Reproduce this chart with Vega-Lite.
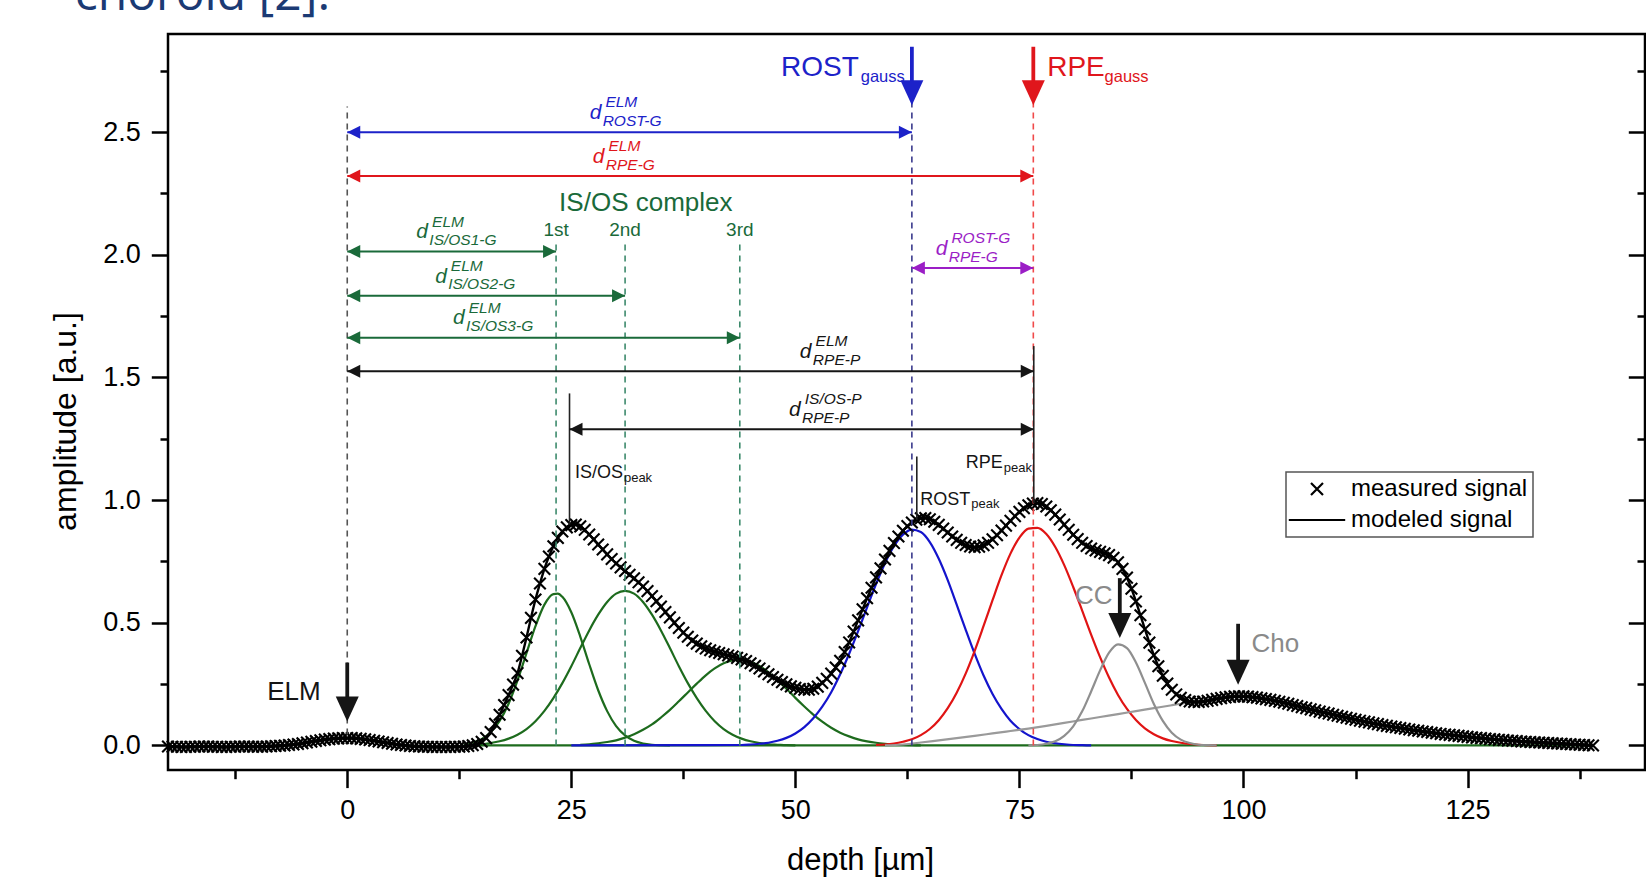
{
"$schema": "https://vega.github.io/schema/vega-lite/v6.json",
"width": 1477,
"height": 736,
"autosize": {"type": "none"},
"padding": {"left": 168, "top": 34, "right": 1, "bottom": 110},
"background": "white",
"config": {
  "view": {"stroke": "black", "strokeWidth": 2.5},
  "font": "Liberation Sans",
  "axis": {"domain": false, "grid": false, "labelColor": "black", "titleColor": "black", "tickColor": "black", "tickWidth": 2.5, "titleFontWeight": "normal", "labelFont": "Liberation Sans", "titleFont": "Liberation Sans", "labelOverlap": false, "labelFlush": false},
  "legend": {"strokeWidth": 1.5}
},
"resolve": {"axis": {"y": "independent", "x": "independent"}},
"datasets": {
  "sig": [
{"x":-20,"m":-0.004},{"x":-19.5,"m":-0.005},{"x":-19,"m":-0.005},{"x":-18.5,"m":-0.006},{"x":-18,"m":-0.006},{"x":-17.5,"m":-0.005},{"x":-17,"m":-0.005},{"x":-16.5,"m":-0.004},{"x":-16,"m":-0.004},{"x":-15.5,"m":-0.004},{"x":-15,"m":-0.005},{"x":-14.5,"m":-0.005},{"x":-14,"m":-0.006},{"x":-13.5,"m":-0.006},{"x":-13,"m":-0.005},{"x":-12.5,"m":-0.005},{"x":-12,"m":-0.004},{"x":-11.5,"m":-0.004},{"x":-11,"m":-0.004},{"x":-10.5,"m":-0.005},{"x":-10,"m":-0.005},{"x":-9.5,"m":-0.005},{"x":-9,"m":-0.004},{"x":-8.5,"m":-0.003},{"x":-8,"m":-0.002},{"x":-7.5,"m":-0.001},{"x":-7,"m":0},{"x":-6.5,"m":0.002},{"x":-6,"m":0.004},{"x":-5.5,"m":0.006},{"x":-5,"m":0.009},{"x":-4.5,"m":0.012},{"x":-4,"m":0.015},{"x":-3.5,"m":0.018},{"x":-3,"m":0.021},{"x":-2.5,"m":0.024},{"x":-2,"m":0.026},{"x":-1.5,"m":0.028},{"x":-1,"m":0.029},{"x":-0.5,"m":0.03},{"x":0,"m":0.03},{"x":0.5,"m":0.03},{"x":1,"m":0.029},{"x":1.5,"m":0.027},{"x":2,"m":0.025},{"x":2.5,"m":0.022},{"x":3,"m":0.019},{"x":3.5,"m":0.016},{"x":4,"m":0.013},{"x":4.5,"m":0.01},{"x":5,"m":0.007},{"x":5.5,"m":0.004},{"x":6,"m":0.002},{"x":6.5,"m":0},{"x":7,"m":-0.002},{"x":7.5,"m":-0.003},{"x":8,"m":-0.004},{"x":8.5,"m":-0.005},{"x":9,"m":-0.005},{"x":9.5,"m":-0.006},{"x":10,"m":-0.006},{"x":10.5,"m":-0.006},{"x":11,"m":-0.006},{"x":11.5,"m":-0.006},{"x":12,"m":-0.005},{"x":12.5,"m":-0.005},{"x":13,"m":-0.004},{"x":13.5,"m":-0.002},{"x":14,"m":0.001},{"x":14.5,"m":0.006},{"x":15,"m":0.015},{"x":15.5,"m":0.03},{"x":16,"m":0.055},{"x":16.5,"m":0.088},{"x":17,"m":0.125},{"x":17.5,"m":0.165},{"x":18,"m":0.205},{"x":18.5,"m":0.248},{"x":19,"m":0.295},{"x":19.5,"m":0.365},{"x":20,"m":0.44},{"x":20.5,"m":0.52},{"x":21,"m":0.595},{"x":21.5,"m":0.66},{"x":22,"m":0.72},{"x":22.5,"m":0.77},{"x":23,"m":0.812},{"x":23.5,"m":0.846},{"x":24,"m":0.872},{"x":24.5,"m":0.889},{"x":25,"m":0.898},{"x":25.5,"m":0.9},{"x":26,"m":0.893},{"x":26.5,"m":0.879},{"x":27,"m":0.86},{"x":27.5,"m":0.84},{"x":28,"m":0.819},{"x":28.5,"m":0.799},{"x":29,"m":0.779},{"x":29.5,"m":0.76},{"x":30,"m":0.742},{"x":30.5,"m":0.726},{"x":31,"m":0.711},{"x":31.5,"m":0.696},{"x":32,"m":0.681},{"x":32.5,"m":0.665},{"x":33,"m":0.648},{"x":33.5,"m":0.629},{"x":34,"m":0.609},{"x":34.5,"m":0.588},{"x":35,"m":0.566},{"x":35.5,"m":0.544},{"x":36,"m":0.522},{"x":36.5,"m":0.5},{"x":37,"m":0.479},{"x":37.5,"m":0.46},{"x":38,"m":0.443},{"x":38.5,"m":0.428},{"x":39,"m":0.415},{"x":39.5,"m":0.404},{"x":40,"m":0.395},{"x":40.5,"m":0.388},{"x":41,"m":0.382},{"x":41.5,"m":0.377},{"x":42,"m":0.372},{"x":42.5,"m":0.367},{"x":43,"m":0.362},{"x":43.5,"m":0.357},{"x":44,"m":0.351},{"x":44.5,"m":0.344},{"x":45,"m":0.335},{"x":45.5,"m":0.325},{"x":46,"m":0.314},{"x":46.5,"m":0.302},{"x":47,"m":0.29},{"x":47.5,"m":0.279},{"x":48,"m":0.268},{"x":48.5,"m":0.258},{"x":49,"m":0.249},{"x":49.5,"m":0.241},{"x":50,"m":0.235},{"x":50.5,"m":0.23},{"x":51,"m":0.227},{"x":51.5,"m":0.227},{"x":52,"m":0.231},{"x":52.5,"m":0.24},{"x":53,"m":0.255},{"x":53.5,"m":0.272},{"x":54,"m":0.293},{"x":54.5,"m":0.318},{"x":55,"m":0.345},{"x":55.5,"m":0.381},{"x":56,"m":0.42},{"x":56.5,"m":0.464},{"x":57,"m":0.51},{"x":57.5,"m":0.555},{"x":58,"m":0.6},{"x":58.5,"m":0.643},{"x":59,"m":0.685},{"x":59.5,"m":0.722},{"x":60,"m":0.758},{"x":60.5,"m":0.793},{"x":61,"m":0.825},{"x":61.5,"m":0.852},{"x":62,"m":0.875},{"x":62.5,"m":0.894},{"x":63,"m":0.909},{"x":63.5,"m":0.92},{"x":64,"m":0.926},{"x":64.5,"m":0.927},{"x":65,"m":0.922},{"x":65.5,"m":0.912},{"x":66,"m":0.899},{"x":66.5,"m":0.884},{"x":67,"m":0.868},{"x":67.5,"m":0.852},{"x":68,"m":0.838},{"x":68.5,"m":0.826},{"x":69,"m":0.817},{"x":69.5,"m":0.811},{"x":70,"m":0.808},{"x":70.5,"m":0.81},{"x":71,"m":0.816},{"x":71.5,"m":0.826},{"x":72,"m":0.84},{"x":72.5,"m":0.857},{"x":73,"m":0.876},{"x":73.5,"m":0.896},{"x":74,"m":0.916},{"x":74.5,"m":0.935},{"x":75,"m":0.952},{"x":75.5,"m":0.967},{"x":76,"m":0.979},{"x":76.5,"m":0.986},{"x":77,"m":0.988},{"x":77.5,"m":0.984},{"x":78,"m":0.974},{"x":78.5,"m":0.959},{"x":79,"m":0.941},{"x":79.5,"m":0.921},{"x":80,"m":0.9},{"x":80.5,"m":0.879},{"x":81,"m":0.859},{"x":81.5,"m":0.841},{"x":82,"m":0.826},{"x":82.5,"m":0.813},{"x":83,"m":0.803},{"x":83.5,"m":0.795},{"x":84,"m":0.789},{"x":84.5,"m":0.783},{"x":85,"m":0.776},{"x":85.5,"m":0.765},{"x":86,"m":0.747},{"x":86.5,"m":0.72},{"x":87,"m":0.684},{"x":87.5,"m":0.639},{"x":88,"m":0.587},{"x":88.5,"m":0.531},{"x":89,"m":0.474},{"x":89.5,"m":0.419},{"x":90,"m":0.368},{"x":90.5,"m":0.323},{"x":91,"m":0.284},{"x":91.5,"m":0.252},{"x":92,"m":0.227},{"x":92.5,"m":0.208},{"x":93,"m":0.194},{"x":93.5,"m":0.185},{"x":94,"m":0.179},{"x":94.5,"m":0.177},{"x":95,"m":0.177},{"x":95.5,"m":0.179},{"x":96,"m":0.182},{"x":96.5,"m":0.186},{"x":97,"m":0.19},{"x":97.5,"m":0.193},{"x":98,"m":0.196},{"x":98.5,"m":0.198},{"x":99,"m":0.2},{"x":99.5,"m":0.2},{"x":100,"m":0.2},{"x":100.5,"m":0.199},{"x":101,"m":0.197},{"x":101.5,"m":0.195},{"x":102,"m":0.192},{"x":102.5,"m":0.189},{"x":103,"m":0.186},{"x":103.5,"m":0.182},{"x":104,"m":0.178},{"x":104.5,"m":0.174},{"x":105,"m":0.17},{"x":105.5,"m":0.165},{"x":106,"m":0.161},{"x":106.5,"m":0.156},{"x":107,"m":0.152},{"x":107.5,"m":0.147},{"x":108,"m":0.143},{"x":108.5,"m":0.138},{"x":109,"m":0.134},{"x":109.5,"m":0.13},{"x":110,"m":0.125},{"x":110.5,"m":0.121},{"x":111,"m":0.117},{"x":111.5,"m":0.113},{"x":112,"m":0.109},{"x":112.5,"m":0.105},{"x":113,"m":0.101},{"x":113.5,"m":0.097},{"x":114,"m":0.094},{"x":114.5,"m":0.09},{"x":115,"m":0.087},{"x":115.5,"m":0.083},{"x":116,"m":0.08},{"x":116.5,"m":0.077},{"x":117,"m":0.074},{"x":117.5,"m":0.071},{"x":118,"m":0.068},{"x":118.5,"m":0.065},{"x":119,"m":0.062},{"x":119.5,"m":0.06},{"x":120,"m":0.057},{"x":120.5,"m":0.055},{"x":121,"m":0.052},{"x":121.5,"m":0.05},{"x":122,"m":0.047},{"x":122.5,"m":0.045},{"x":123,"m":0.043},{"x":123.5,"m":0.041},{"x":124,"m":0.039},{"x":124.5,"m":0.037},{"x":125,"m":0.035},{"x":125.5,"m":0.033},{"x":126,"m":0.031},{"x":126.5,"m":0.03},{"x":127,"m":0.028},{"x":127.5,"m":0.026},{"x":128,"m":0.025},{"x":128.5,"m":0.023},{"x":129,"m":0.022},{"x":129.5,"m":0.02},{"x":130,"m":0.019},{"x":130.5,"m":0.018},{"x":131,"m":0.016},{"x":131.5,"m":0.015},{"x":132,"m":0.014},{"x":132.5,"m":0.013},{"x":133,"m":0.012},{"x":133.5,"m":0.011},{"x":134,"m":0.01},{"x":134.5,"m":0.009},{"x":135,"m":0.008},{"x":135.5,"m":0.007},{"x":136,"m":0.006},{"x":136.5,"m":0.005},{"x":137,"m":0.004},{"x":137.5,"m":0.003},{"x":138,"m":0.002},{"x":138.5,"m":0.001},{"x":139,"m":0}
  ],
  "comp": [
{"x":14,"v":0,"k":"Z"},{"x":139,"v":0,"k":"Z"},
{"x":13,"v":0.004,"k":"G1"},{"x":14,"v":0.012,"k":"G1"},{"x":15,"v":0.026,"k":"G1"},{"x":16,"v":0.054,"k":"G1"},{"x":17,"v":0.1,"k":"G1"},{"x":18,"v":0.17,"k":"G1"},{"x":19,"v":0.265,"k":"G1"},{"x":20,"v":0.376,"k":"G1"},{"x":21,"v":0.486,"k":"G1"},{"x":22,"v":0.574,"k":"G1"},{"x":23,"v":0.617,"k":"G1"},{"x":23.5,"v":0.619,"k":"G1"},{"x":24,"v":0.606,"k":"G1"},{"x":25,"v":0.543,"k":"G1"},{"x":26,"v":0.444,"k":"G1"},{"x":27,"v":0.331,"k":"G1"},{"x":28,"v":0.225,"k":"G1"},{"x":29,"v":0.14,"k":"G1"},{"x":30,"v":0.079,"k":"G1"},{"x":31,"v":0.041,"k":"G1"},{"x":32,"v":0.019,"k":"G1"},{"x":33,"v":0.008,"k":"G1"},{"x":34,"v":0.003,"k":"G1"},{"x":35,"v":0.001,"k":"G1"},{"x":36,"v":0,"k":"G1"},
{"x":14,"v":0.003,"k":"G2"},{"x":15,"v":0.005,"k":"G2"},{"x":16,"v":0.01,"k":"G2"},{"x":17,"v":0.017,"k":"G2"},{"x":18,"v":0.028,"k":"G2"},{"x":19,"v":0.044,"k":"G2"},{"x":20,"v":0.067,"k":"G2"},{"x":21,"v":0.099,"k":"G2"},{"x":22,"v":0.141,"k":"G2"},{"x":23,"v":0.193,"k":"G2"},{"x":24,"v":0.254,"k":"G2"},{"x":25,"v":0.323,"k":"G2"},{"x":26,"v":0.397,"k":"G2"},{"x":27,"v":0.469,"k":"G2"},{"x":28,"v":0.533,"k":"G2"},{"x":29,"v":0.585,"k":"G2"},{"x":30,"v":0.619,"k":"G2"},{"x":31,"v":0.63,"k":"G2"},{"x":32,"v":0.619,"k":"G2"},{"x":33,"v":0.585,"k":"G2"},{"x":34,"v":0.533,"k":"G2"},{"x":35,"v":0.469,"k":"G2"},{"x":36,"v":0.397,"k":"G2"},{"x":37,"v":0.323,"k":"G2"},{"x":38,"v":0.254,"k":"G2"},{"x":39,"v":0.193,"k":"G2"},{"x":40,"v":0.141,"k":"G2"},{"x":41,"v":0.099,"k":"G2"},{"x":42,"v":0.067,"k":"G2"},{"x":43,"v":0.044,"k":"G2"},{"x":44,"v":0.028,"k":"G2"},{"x":45,"v":0.017,"k":"G2"},{"x":46,"v":0.01,"k":"G2"},{"x":47,"v":0.005,"k":"G2"},{"x":48,"v":0.003,"k":"G2"},{"x":49,"v":0.001,"k":"G2"},{"x":50,"v":0,"k":"G2"},
{"x":26,"v":0.003,"k":"G3"},{"x":27,"v":0.005,"k":"G3"},{"x":28,"v":0.009,"k":"G3"},{"x":29,"v":0.014,"k":"G3"},{"x":30,"v":0.021,"k":"G3"},{"x":31,"v":0.032,"k":"G3"},{"x":32,"v":0.046,"k":"G3"},{"x":33,"v":0.064,"k":"G3"},{"x":34,"v":0.086,"k":"G3"},{"x":35,"v":0.114,"k":"G3"},{"x":36,"v":0.145,"k":"G3"},{"x":37,"v":0.18,"k":"G3"},{"x":38,"v":0.216,"k":"G3"},{"x":39,"v":0.252,"k":"G3"},{"x":40,"v":0.286,"k":"G3"},{"x":41,"v":0.314,"k":"G3"},{"x":42,"v":0.335,"k":"G3"},{"x":43,"v":0.347,"k":"G3"},{"x":44,"v":0.35,"k":"G3"},{"x":45,"v":0.341,"k":"G3"},{"x":46,"v":0.324,"k":"G3"},{"x":47,"v":0.298,"k":"G3"},{"x":48,"v":0.266,"k":"G3"},{"x":49,"v":0.231,"k":"G3"},{"x":50,"v":0.194,"k":"G3"},{"x":51,"v":0.159,"k":"G3"},{"x":52,"v":0.126,"k":"G3"},{"x":53,"v":0.097,"k":"G3"},{"x":54,"v":0.072,"k":"G3"},{"x":55,"v":0.052,"k":"G3"},{"x":56,"v":0.037,"k":"G3"},{"x":57,"v":0.025,"k":"G3"},{"x":58,"v":0.017,"k":"G3"},{"x":59,"v":0.011,"k":"G3"},{"x":60,"v":0.007,"k":"G3"},{"x":61,"v":0.004,"k":"G3"},{"x":62,"v":0.002,"k":"G3"},{"x":63,"v":0.001,"k":"G3"},{"x":64,"v":0,"k":"G3"},
{"x":25,"v":0,"k":"B"},{"x":44,"v":0.002,"k":"B"},{"x":45,"v":0.004,"k":"B"},{"x":46,"v":0.007,"k":"B"},{"x":47,"v":0.011,"k":"B"},{"x":48,"v":0.019,"k":"B"},{"x":49,"v":0.031,"k":"B"},{"x":50,"v":0.049,"k":"B"},{"x":51,"v":0.075,"k":"B"},{"x":52,"v":0.111,"k":"B"},{"x":53,"v":0.158,"k":"B"},{"x":54,"v":0.217,"k":"B"},{"x":55,"v":0.29,"k":"B"},{"x":56,"v":0.374,"k":"B"},{"x":57,"v":0.466,"k":"B"},{"x":58,"v":0.563,"k":"B"},{"x":59,"v":0.658,"k":"B"},{"x":60,"v":0.743,"k":"B"},{"x":61,"v":0.812,"k":"B"},{"x":62,"v":0.859,"k":"B"},{"x":63,"v":0.88,"k":"B"},{"x":64,"v":0.87,"k":"B"},{"x":65,"v":0.829,"k":"B"},{"x":66,"v":0.761,"k":"B"},{"x":67,"v":0.674,"k":"B"},{"x":68,"v":0.574,"k":"B"},{"x":69,"v":0.472,"k":"B"},{"x":70,"v":0.374,"k":"B"},{"x":71,"v":0.285,"k":"B"},{"x":72,"v":0.21,"k":"B"},{"x":73,"v":0.149,"k":"B"},{"x":74,"v":0.101,"k":"B"},{"x":75,"v":0.067,"k":"B"},{"x":76,"v":0.042,"k":"B"},{"x":77,"v":0.026,"k":"B"},{"x":78,"v":0.015,"k":"B"},{"x":79,"v":0.009,"k":"B"},{"x":80,"v":0.005,"k":"B"},{"x":81,"v":0.002,"k":"B"},{"x":82,"v":0.001,"k":"B"},{"x":83,"v":0,"k":"B"},
{"x":59,"v":0.002,"k":"R"},{"x":60,"v":0.004,"k":"R"},{"x":61,"v":0.008,"k":"R"},{"x":62,"v":0.015,"k":"R"},{"x":63,"v":0.025,"k":"R"},{"x":64,"v":0.042,"k":"R"},{"x":65,"v":0.067,"k":"R"},{"x":66,"v":0.103,"k":"R"},{"x":67,"v":0.152,"k":"R"},{"x":68,"v":0.215,"k":"R"},{"x":69,"v":0.293,"k":"R"},{"x":70,"v":0.385,"k":"R"},{"x":71,"v":0.487,"k":"R"},{"x":72,"v":0.592,"k":"R"},{"x":73,"v":0.694,"k":"R"},{"x":74,"v":0.782,"k":"R"},{"x":75,"v":0.847,"k":"R"},{"x":76,"v":0.884,"k":"R"},{"x":77,"v":0.887,"k":"R"},{"x":78,"v":0.862,"k":"R"},{"x":79,"v":0.809,"k":"R"},{"x":80,"v":0.735,"k":"R"},{"x":81,"v":0.646,"k":"R"},{"x":82,"v":0.55,"k":"R"},{"x":83,"v":0.452,"k":"R"},{"x":84,"v":0.36,"k":"R"},{"x":85,"v":0.277,"k":"R"},{"x":86,"v":0.206,"k":"R"},{"x":87,"v":0.149,"k":"R"},{"x":88,"v":0.104,"k":"R"},{"x":89,"v":0.07,"k":"R"},{"x":90,"v":0.046,"k":"R"},{"x":91,"v":0.029,"k":"R"},{"x":92,"v":0.018,"k":"R"},{"x":93,"v":0.011,"k":"R"},{"x":94,"v":0.006,"k":"R"},{"x":95,"v":0.003,"k":"R"},{"x":96,"v":0.001,"k":"R"},{"x":97,"v":0,"k":"R"},
{"x":60,"v":0,"k":"BG"},{"x":62,"v":0.004,"k":"BG"},{"x":64,"v":0.012,"k":"BG"},{"x":66,"v":0.021,"k":"BG"},{"x":68,"v":0.03,"k":"BG"},{"x":70,"v":0.039,"k":"BG"},{"x":72,"v":0.049,"k":"BG"},{"x":74,"v":0.059,"k":"BG"},{"x":76,"v":0.069,"k":"BG"},{"x":78,"v":0.08,"k":"BG"},{"x":80,"v":0.092,"k":"BG"},{"x":82,"v":0.104,"k":"BG"},{"x":84,"v":0.116,"k":"BG"},{"x":86,"v":0.128,"k":"BG"},{"x":88,"v":0.14,"k":"BG"},{"x":90,"v":0.152,"k":"BG"},{"x":92,"v":0.164,"k":"BG"},{"x":94,"v":0.175,"k":"BG"},{"x":96,"v":0.184,"k":"BG"},
{"x":76,"v":0,"k":"CC"},{"x":77,"v":0.002,"k":"CC"},{"x":78,"v":0.007,"k":"CC"},{"x":79,"v":0.017,"k":"CC"},{"x":80,"v":0.039,"k":"CC"},{"x":81,"v":0.078,"k":"CC"},{"x":82,"v":0.139,"k":"CC"},{"x":83,"v":0.22,"k":"CC"},{"x":84,"v":0.306,"k":"CC"},{"x":85,"v":0.378,"k":"CC"},{"x":86,"v":0.412,"k":"CC"},{"x":87,"v":0.397,"k":"CC"},{"x":88,"v":0.338,"k":"CC"},{"x":89,"v":0.255,"k":"CC"},{"x":90,"v":0.169,"k":"CC"},{"x":91,"v":0.1,"k":"CC"},{"x":92,"v":0.052,"k":"CC"},{"x":93,"v":0.024,"k":"CC"},{"x":94,"v":0.01,"k":"CC"},{"x":95,"v":0.003,"k":"CC"},{"x":96,"v":0.001,"k":"CC"},{"x":97,"v":0,"k":"CC"}
  ],
  "vdash": [
    {"x":0,"y1":0.045,"y2":2.604,"k":"d_black"},
    {"x":23.3,"y1":0,"y2":2.05,"k":"d_green"},
    {"x":31.0,"y1":0,"y2":2.05,"k":"d_green"},
    {"x":43.8,"y1":0,"y2":2.05,"k":"d_green"},
    {"x":63.0,"y1":0,"y2":2.62,"k":"d_blue"},
    {"x":76.55,"y1":0,"y2":2.62,"k":"d_red"}
  ],
  "vsolid": [
    {"x":24.8,"y1":0.9,"y2":1.435},
    {"x":63.55,"y1":0.92,"y2":1.178},
    {"x":76.6,"y1":0.988,"y2":1.628}
  ],
  "harrow": [
    {"y":2.5,"x1":0,"x2":63.0,"k":"a_blue"},
    {"y":2.321,"x1":0,"x2":76.55,"k":"a_red"},
    {"y":2.013,"x1":0,"x2":23.3,"k":"a_green"},
    {"y":1.833,"x1":0,"x2":31.0,"k":"a_green"},
    {"y":1.662,"x1":0,"x2":43.8,"k":"a_green"},
    {"y":1.946,"x1":63.0,"x2":76.55,"k":"a_purple"},
    {"y":1.525,"x1":0,"x2":76.6,"k":"a_black"},
    {"y":1.289,"x1":24.8,"x2":76.6,"k":"a_black"}
  ],
  "darrow": [
    {"x":0,"top":0.338,"neck":0.16,"tip":0.098,"k":"a_black"},
    {"x":86.2,"top":0.682,"neck":0.5,"tip":0.438,"k":"a_black"},
    {"x":99.4,"top":0.496,"neck":0.31,"tip":0.247,"k":"a_black"},
    {"x":63.0,"top":2.848,"neck":2.67,"tip":2.61,"k":"a_blue"},
    {"x":76.55,"top":2.848,"neck":2.67,"tip":2.61,"k":"a_red"}
  ],
  "dlab": [
    {"x":27.05,"y":2.554,"sup":"ELM","sub":"ROST-G","k":"a_blue"},
    {"x":27.4,"y":2.375,"sup":"ELM","sub":"RPE-G","k":"a_red"},
    {"x":7.71,"y":2.067,"sup":"ELM","sub":"IS/OS1-G","k":"a_green"},
    {"x":9.81,"y":1.887,"sup":"ELM","sub":"IS/OS2-G","k":"a_green"},
    {"x":11.8,"y":1.716,"sup":"ELM","sub":"IS/OS3-G","k":"a_green"},
    {"x":65.66,"y":2.0,"sup":"ROST-G","sub":"RPE-G","k":"a_purple"},
    {"x":50.5,"y":1.579,"sup":"ELM","sub":"RPE-P","k":"a_black"},
    {"x":49.3,"y":1.343,"sup":"IS/OS-P","sub":"RPE-P","k":"a_black"}
  ],
  "txt26": [
    {"x":-8.93,"y":0.185,"t":"ELM","k":"a_black"},
    {"x":81.2,"y":0.575,"t":"CC","k":"t_gray"},
    {"x":100.9,"y":0.383,"t":"Cho","k":"t_gray"},
    {"x":23.64,"y":2.18,"t":"IS/OS complex","k":"a_green"}
  ],
  "gausslab": [
    {"x":48.4,"y":2.728,"t":"ROST","k":"a_blue"},
    {"x":78.1,"y":2.728,"t":"RPE","k":"a_red"}
  ],
  "gauss": [
    {"x":57.29,"y":2.706,"t":"gauss","k":"a_blue"},
    {"x":84.5,"y":2.706,"t":"gauss","k":"a_red"}
  ],
  "txt18": [
    {"x":25.4,"y":1.089,"t":"IS/OS","k":"a_black"},
    {"x":63.94,"y":0.982,"t":"ROST","k":"a_black"},
    {"x":69.0,"y":1.131,"t":"RPE","k":"a_black"}
  ],
  "peak": [
    {"x":30.87,"y":1.073,"t":"peak","k":"a_black"},
    {"x":69.63,"y":0.966,"t":"peak","k":"a_black"},
    {"x":73.25,"y":1.115,"t":"peak","k":"a_black"}
  ],
  "ord": [
    {"x":23.3,"y":2.077,"t":"1st","k":"a_green"},
    {"x":31.0,"y":2.077,"t":"2nd","k":"a_green"},
    {"x":43.8,"y":2.077,"t":"3rd","k":"a_green"}
  ],
  "head": [
    {"x":-30.4,"y":2.996,"t":"choroid [2]."}
  ]
},
"layer": [
  {
    "data": {"name": "comp"},
    "mark": {"type": "line", "strokeWidth": 2.2, "interpolate": "monotone"},
    "encoding": {
      "x": {"field": "x", "type": "quantitative", "axis": null},
      "y": {"field": "v", "type": "quantitative", "axis": null},
      "color": {"field": "k", "type": "nominal", "legend": null,
        "scale": {
          "domain": ["G1","G2","G3","Z","B","R","CC","BG","a_blue","a_red","a_green","a_purple","a_black","t_gray","d_black","d_green","d_blue","d_red"],
          "range": ["#1d6b1d","#1d6b1d","#1d6b1d","#1d6b1d","#1414cc","#e01414","#8f8f8f","#9a9a9a","#1c22c9","#e0161c","#1a6a3a","#9b1ec6","#151515","#8a8a8a","#555555","#3d8a6c","#3a3a8c","#f04a4a"]
        }}
    }
  },
  {
    "data": {"name": "sig"},
    "mark": {"type": "line", "color": "black", "strokeWidth": 2.4, "interpolate": "monotone"},
    "encoding": {
      "x": {"field": "x", "type": "quantitative",
        "axis": {"orient": "bottom", "title": null, "labels": false,
          "values": [-12.5,12.5,37.5,62.5,87.5,112.5,137.5], "tickSize": 8.7}},
      "y": {"field": "m", "type": "quantitative",
        "axis": {"orient": "right", "title": null, "labels": false,
          "values": [0,0.25,0.5,0.75,1,1.25,1.5,1.75,2,2.25,2.5,2.75],
          "tickSize": {"condition": {"test": "abs(datum.value % 0.5) < 0.001", "value": -16.7}, "value": -8}}}
    }
  },
  {
    "data": {"name": "sig"},
    "mark": {"type": "point", "filled": false, "stroke": "black", "strokeWidth": 2.1, "size": 135, "opacity": 1},
    "encoding": {
      "x": {"field": "x", "type": "quantitative",
        "scale": {"domain": [-20, 144.8], "nice": false, "zero": false},
        "axis": {"orient": "bottom", "title": "depth [µm]",
          "values": [0,25,50,75,100,125],
          "format": "d",
          "tickSize": 17.6,
          "labelFontSize": 27, "labelPadding": 10, "titleFontSize": 31, "titlePadding": 22, "titleX": 692}},
      "y": {"field": "m", "type": "quantitative",
        "scale": {"domain": [-0.1, 2.9], "nice": false, "zero": false},
        "axis": {"orient": "left", "title": "amplitude [a.u.]",
          "values": [0,0.25,0.5,0.75,1,1.25,1.5,1.75,2,2.25,2.5,2.75],
          "labelExpr": "abs(datum.value % 0.5) < 0.001 ? format(datum.value, '.1f') : ''",
          "tickSize": {"condition": {"test": "abs(datum.value % 0.5) < 0.001", "value": 16.7}, "value": 8},
          "labelFontSize": 27, "labelPadding": 11, "titleFontSize": 32, "titlePadding": 20, "titleY": 387}},
      "shape": {"datum": "measured signal", "type": "nominal",
        "scale": {"domain": ["measured signal", "modeled signal"], "range": ["M-1,-1L1,1M-1,1L1,-1", "M-4.7,0L4.7,0"]},
        "legend": {"orient": "none", "legendX": 1118, "legendY": 438, "title": null,
          "labelFontSize": 24, "labelFont": "Liberation Sans", "labelColor": "black", "labelLimit": 400,
          "strokeColor": "#555555", "fillColor": "white", "padding": 5,
          "symbolSize": 144, "symbolStrokeWidth": 2.2, "symbolStrokeColor": "black", "symbolFillColor": "transparent",
          "symbolOffset": 14, "labelOffset": 22, "rowPadding": 7}}
    }
  },
  {
    "data": {"name": "vdash"},
    "mark": {"type": "rule", "strokeWidth": 1.6, "strokeDash": [6, 5]},
    "encoding": {
      "x": {"field": "x", "type": "quantitative", "axis": null},
      "y": {"field": "y1", "type": "quantitative", "axis": null},
      "y2": {"field": "y2"},
      "color": {"field": "k", "type": "nominal", "legend": null}
    }
  },
  {
    "data": {"name": "vsolid"},
    "mark": {"type": "rule", "strokeWidth": 1.6, "color": "#222222"},
    "encoding": {
      "x": {"field": "x", "type": "quantitative", "axis": null},
      "y": {"field": "y1", "type": "quantitative", "axis": null},
      "y2": {"field": "y2"}
    }
  },
  {
    "data": {"name": "harrow"},
    "mark": {"type": "rule", "strokeWidth": 2},
    "encoding": {
      "x": {"field": "x1", "type": "quantitative", "axis": null},
      "x2": {"field": "x2"},
      "y": {"field": "y", "type": "quantitative", "axis": null},
      "color": {"field": "k", "type": "nominal", "legend": null}
    }
  },
  {
    "data": {"name": "harrow"},
    "mark": {"type": "point", "shape": "M0,0L2,-1L2,1Z", "size": 169, "filled": true, "opacity": 1, "strokeWidth": 0},
    "encoding": {
      "x": {"field": "x1", "type": "quantitative", "axis": null},
      "y": {"field": "y", "type": "quantitative", "axis": null},
      "color": {"field": "k", "type": "nominal", "legend": null}
    }
  },
  {
    "data": {"name": "harrow"},
    "mark": {"type": "point", "shape": "M0,0L-2,-1L-2,1Z", "size": 169, "filled": true, "opacity": 1, "strokeWidth": 0},
    "encoding": {
      "x": {"field": "x2", "type": "quantitative", "axis": null},
      "y": {"field": "y", "type": "quantitative", "axis": null},
      "color": {"field": "k", "type": "nominal", "legend": null}
    }
  },
  {
    "data": {"name": "darrow"},
    "mark": {"type": "rule", "strokeWidth": 3.8},
    "encoding": {
      "x": {"field": "x", "type": "quantitative", "axis": null},
      "y": {"field": "top", "type": "quantitative", "axis": null},
      "y2": {"field": "neck"},
      "color": {"field": "k", "type": "nominal", "legend": null}
    }
  },
  {
    "data": {"name": "darrow"},
    "mark": {"type": "point", "shape": "M0,0L-0.92,-2L0.92,-2Z", "size": 625, "filled": true, "opacity": 1, "strokeWidth": 0},
    "encoding": {
      "x": {"field": "x", "type": "quantitative", "axis": null},
      "y": {"field": "tip", "type": "quantitative", "axis": null},
      "color": {"field": "k", "type": "nominal", "legend": null}
    }
  },
  {
    "data": {"name": "dlab"},
    "mark": {"type": "text", "text": "d", "fontSize": 21, "fontStyle": "italic", "align": "left", "baseline": "alphabetic"},
    "encoding": {
      "x": {"field": "x", "type": "quantitative", "axis": null},
      "y": {"field": "y", "type": "quantitative", "axis": null},
      "color": {"field": "k", "type": "nominal", "legend": null}
    }
  },
  {
    "data": {"name": "dlab"},
    "mark": {"type": "text", "fontSize": 15.5, "fontStyle": "italic", "align": "left", "baseline": "alphabetic", "dx": 15.7, "dy": -11.7},
    "encoding": {
      "x": {"field": "x", "type": "quantitative", "axis": null},
      "y": {"field": "y", "type": "quantitative", "axis": null},
      "text": {"field": "sup"},
      "color": {"field": "k", "type": "nominal", "legend": null}
    }
  },
  {
    "data": {"name": "dlab"},
    "mark": {"type": "text", "fontSize": 15.5, "fontStyle": "italic", "align": "left", "baseline": "alphabetic", "dx": 13, "dy": 6.7},
    "encoding": {
      "x": {"field": "x", "type": "quantitative", "axis": null},
      "y": {"field": "y", "type": "quantitative", "axis": null},
      "text": {"field": "sub"},
      "color": {"field": "k", "type": "nominal", "legend": null}
    }
  },
  {
    "data": {"name": "txt26"},
    "mark": {"type": "text", "fontSize": 26, "align": "left", "baseline": "alphabetic"},
    "encoding": {
      "x": {"field": "x", "type": "quantitative", "axis": null},
      "y": {"field": "y", "type": "quantitative", "axis": null},
      "text": {"field": "t"},
      "color": {"field": "k", "type": "nominal", "legend": null}
    }
  },
  {
    "data": {"name": "gausslab"},
    "mark": {"type": "text", "fontSize": 28, "align": "left", "baseline": "alphabetic"},
    "encoding": {
      "x": {"field": "x", "type": "quantitative", "axis": null},
      "y": {"field": "y", "type": "quantitative", "axis": null},
      "text": {"field": "t"},
      "color": {"field": "k", "type": "nominal", "legend": null}
    }
  },
  {
    "data": {"name": "gauss"},
    "mark": {"type": "text", "fontSize": 16.5, "align": "left", "baseline": "alphabetic"},
    "encoding": {
      "x": {"field": "x", "type": "quantitative", "axis": null},
      "y": {"field": "y", "type": "quantitative", "axis": null},
      "text": {"field": "t"},
      "color": {"field": "k", "type": "nominal", "legend": null}
    }
  },
  {
    "data": {"name": "txt18"},
    "mark": {"type": "text", "fontSize": 18, "align": "left", "baseline": "alphabetic"},
    "encoding": {
      "x": {"field": "x", "type": "quantitative", "axis": null},
      "y": {"field": "y", "type": "quantitative", "axis": null},
      "text": {"field": "t"},
      "color": {"field": "k", "type": "nominal", "legend": null}
    }
  },
  {
    "data": {"name": "peak"},
    "mark": {"type": "text", "fontSize": 13, "align": "left", "baseline": "alphabetic"},
    "encoding": {
      "x": {"field": "x", "type": "quantitative", "axis": null},
      "y": {"field": "y", "type": "quantitative", "axis": null},
      "text": {"field": "t"},
      "color": {"field": "k", "type": "nominal", "legend": null}
    }
  },
  {
    "data": {"name": "ord"},
    "mark": {"type": "text", "fontSize": 19, "align": "center", "baseline": "alphabetic"},
    "encoding": {
      "x": {"field": "x", "type": "quantitative", "axis": null},
      "y": {"field": "y", "type": "quantitative", "axis": null},
      "text": {"field": "t"},
      "color": {"field": "k", "type": "nominal", "legend": null}
    }
  },
  {
    "data": {"name": "head"},
    "mark": {"type": "text", "font": "Open Sans", "fontSize": 48, "color": "#1b3a74", "align": "left", "baseline": "alphabetic"},
    "encoding": {
      "x": {"field": "x", "type": "quantitative", "axis": null},
      "y": {"field": "y", "type": "quantitative", "axis": null},
      "text": {"field": "t"}
    }
  }
]
}
